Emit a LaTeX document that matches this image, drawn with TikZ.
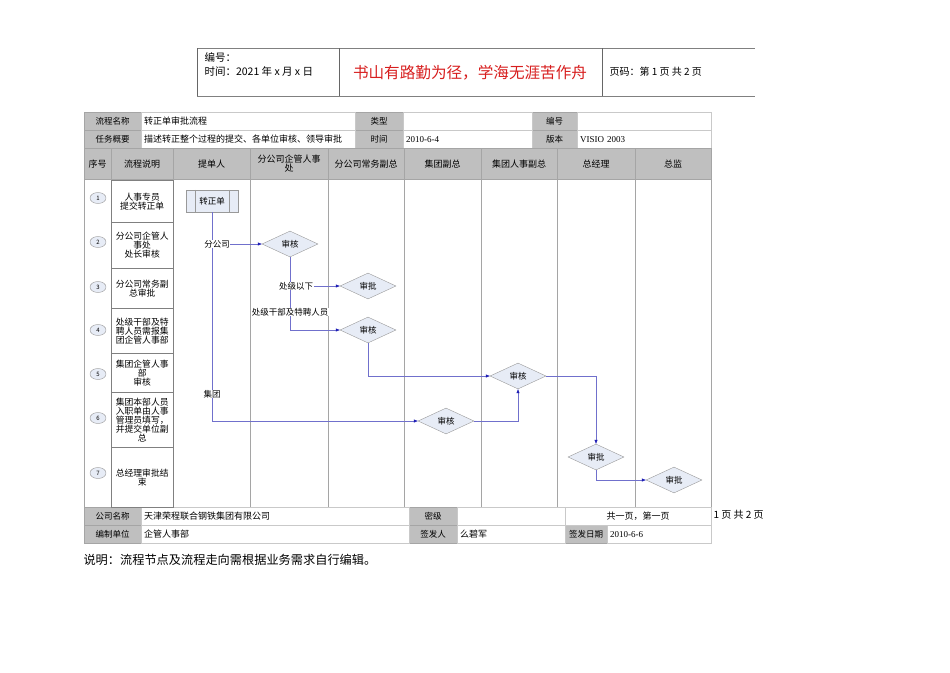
\documentclass[tikz,border=0pt]{standalone}
\usepackage{fontspec}
\setmainfont{Noto Sans CJK SC}
\newfontfamily\numfont{Liberation Serif}
\usetikzlibrary{shapes.geometric,arrows.meta}
\definecolor{hdrgray}{RGB}{191,191,191}
\definecolor{rulegray}{RGB}{165,165,165}
\definecolor{shapefill}{RGB}{231,236,246}
\definecolor{flowline}{RGB}{112,112,204}
\definecolor{tipblue}{RGB}{28,28,180}
\definecolor{mottored}{RGB}{215,30,30}

\begin{document}
\begin{tikzpicture}[x=1pt,y=-1pt,font=\fontsize{8.5}{9.5}\selectfont,
    hdr/.style={draw=rulegray,fill=hdrgray,inner sep=0pt,anchor=north west,align=center},
    val/.style={draw=rulegray!60,fill=white,inner xsep=3pt,inner ysep=0pt,anchor=north west,align=left,font=\fontsize{9}{10}\selectfont},
    desc/.style={draw=gray,fill=white,inner sep=1pt,anchor=north west,align=center,text width=60pt,minimum width=62pt,font=\fontsize{8.8}{9}\selectfont},
    stepno/.style={ellipse,draw=gray!80,fill=shapefill,minimum width=16pt,minimum height=11pt,inner sep=0pt,font=\fontsize{6}{6}\selectfont},
    decide/.style={diamond,aspect=2.15,draw=gray!80,fill=shapefill,minimum width=56pt,minimum height=26pt,inner sep=0pt},
    lbl/.style={fill=white,inner sep=0.5pt},
    lane/.style={draw=rulegray,line width=0.6pt},
    flow/.style={draw=flowline,line width=0.5pt,-{Triangle[length=4pt,width=3pt,color=tipblue]}}]
  \useasboundingbox (0,0) rectangle (950,672);
  % document header
  \draw[gray] (197,48) -- (755,48) (197,96) -- (755,96);
  \draw[gray!80!black] (197,48) -- (197,96) (339,48) -- (339,96) (602,48) -- (602,96);
  \node[anchor=north west,align=left,font=\fontsize{10.5}{14}\selectfont] (docinfo) at (201,49) {编号：\\时间：2021 年 x 月 x 日};
  \node[text=mottored,font=\fontsize{15.6}{18}\selectfont] (motto) at (470,73) {书山有路勤为径，学海无涯苦作舟};
  \node[anchor=west,font=\fontsize{10}{12}\selectfont] (pageno) at (606,72) {页码：第 1 页 共 2 页};
  % table cells
  \foreach \nm/\xa/\ya/\xb/\yb/\txt in {nameL/84/112/141/130/流程名称, typeL/355/112/403/130/类型, codeL/532/112/577/130/编号,
      taskL/84/130/141/148/任务概要, timeL/355/130/403/148/时间, verL/532/130/577/148/版本,
      compL/84/507/141/525/公司名称, secL/409/507/457/525/密级,
      unitL/84/525/141/543/编制单位, signL/409/525/457/543/签发人, dateL/565/525/607/543/签发日期}
    \node[hdr,minimum width={(\xb-\xa)*1pt},minimum height={(\yb-\ya)*1pt}] (\nm) at (\xa,\ya) {\txt};
  \foreach \nm/\xa/\ya/\xb/\yb/\txt in {nameV/141/112/355/130/转正单审批流程, typeV/403/112/532/130/{}, codeV/577/112/711/130/{},
      taskV/141/130/355/148/描述转正整个过程的提交、各单位审核、领导审批, timeV/403/130/532/148/{\numfont 2010-6-4},
      verV/577/130/711/148/{\numfont VISIO 2003},
      compV/141/507/409/525/天津荣程联合钢铁集团有限公司, secV/457/507/565/525/{},
      pageV/565/507/711/525/{\makebox[\linewidth]{共一页，第一页}},
      unitV/141/525/409/543/企管人事部, signV/457/525/565/543/么碧军, dateV/607/525/711/543/{\numfont 2010-6-6}}
    \node[val,text width={(\xb-\xa-6)*1pt},minimum height={(\yb-\ya)*1pt}] (\nm) at (\xa,\ya) {\txt};
  % lane heads
  \foreach \nm/\xa/\xb/\txt in {seqH/84/111/序号, descH/111/173/流程说明, laneA/173/250/提单人, laneB/250/328/{分公司企管人事\\处},
      laneC/328/404/分公司常务副总, laneD/404/481/集团副总, laneE/481/557/集团人事副总, laneF/557/635/总经理, laneG/635/711/总监}
    \node[hdr,minimum width={(\xb-\xa)*1pt},minimum height=31pt,font=\fontsize{9}{9.5}\selectfont] (\nm) at (\xa,148) {\txt};
  \draw[rulegray] (84,179) -- (84,507) (111,179) -- (111,507);
  \foreach \x in {250,328,404,481,557,635,711}
    \draw[lane] (\x,179) -- (\x,507);
  % steps
  \foreach \n/\ya/\yb/\yc/\txt in {1/180/222/198/{人事专员\\提交转正单}, 2/222/268/242/{分公司企管人\\事处\\处长审核},
      3/268/308/287/{分公司常务副\\总审批}, 4/308/353/330/{处级干部及特\\聘人员需报集\\团企管人事部},
      5/353/392/374/{集团企管人事\\部\\审核}, 6/392/447/418/{集团本部人员\\入职单由人事\\管理员填写，\\并提交单位副\\总},
      7/447/507/473/{总经理审批结\\束}} {
    \node[desc,minimum height={(\yb-\ya)*1pt}] (desc\n) at (111,\ya) {\txt};
    \node[stepno] (no\n) at (98,\yc) {\n};
  }
  % flow
  \node[draw=gray!80,fill=shapefill,minimum width=52pt,minimum height=22pt,inner sep=0pt] (form) at (212,201) {转正单};
  \draw[gray!80] ([xshift=9pt]form.north west) -- ([xshift=9pt]form.south west)
    ([xshift=-9pt]form.north east) -- ([xshift=-9pt]form.south east);
  \node[decide] (chkA) at (290,244) {审核};
  \node[decide] (aprA) at (368,286) {审批};
  \node[decide] (chkB) at (368,330) {审核};
  \node[decide] (chkC) at (518,376) {审核};
  \node[decide] (chkD) at (446,421) {审核};
  \node[decide] (aprB) at (596,457) {审批};
  \node[decide] (aprC) at (674,480) {审批};
  \coordinate (forkA) at (form.south |- chkA.west);
  \coordinate (forkB) at (chkA.south |- aprA.west);
  \draw[flow] (form.south) |- (chkD.west);
  \draw[flow] (forkA) -- (chkA.west);
  \draw[flow] (chkA.south) |- (chkB.west);
  \draw[flow] (forkB) -- (aprA.west);
  \draw[flow] (chkB.south) |- (chkC.west);
  \draw[flow] (chkD.east) -| (chkC.south);
  \draw[flow] (chkC.east) -| (aprB.north);
  \draw[flow] (aprB.south) |- (aprC.west);
  \node[lbl] (toBranch) at (217,244) {分公司};
  \node[lbl] (toGroup) at (212,394) {集团};
  \node[lbl] (lowRank) at (296,286) {处级以下};
  \node[lbl] (highRank) at (290,312) {处级干部及特聘人员};
  % notes
  \node[anchor=west,font=\fontsize{10}{12}\selectfont] (pageR) at (710,515) {1 页 共 2 页};
  \node[anchor=west,font=\fontsize{12.2}{14}\selectfont] (note) at (80,560) {说明：流程节点及流程走向需根据业务需求自行编辑。};
\end{tikzpicture}
\end{document}
